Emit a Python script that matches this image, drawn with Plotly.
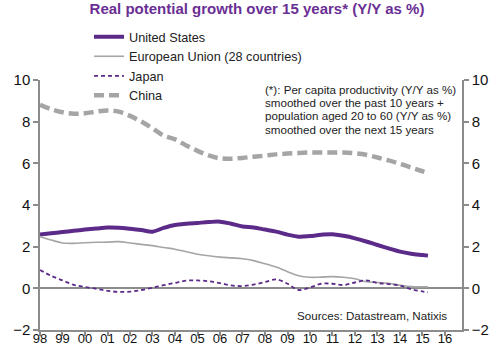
import plotly.graph_objects as go

dates = ["1998-01-01", "1998-07-01", "1999-01-01", "1999-07-01", "2000-01-01", "2000-07-01",
         "2001-01-01", "2001-07-01", "2002-01-01", "2002-07-01", "2003-01-01", "2003-07-01",
         "2004-01-01", "2004-07-01", "2005-01-01", "2005-07-01", "2006-01-01", "2006-07-01",
         "2007-01-01", "2007-07-01", "2008-01-01", "2008-07-01", "2009-01-01", "2009-07-01",
         "2010-01-01", "2010-07-01", "2011-01-01", "2011-07-01", "2012-01-01", "2012-07-01",
         "2013-01-01", "2013-07-01", "2014-01-01", "2014-07-01", "2015-01-01", "2015-04-01"]

us = [2.58, 2.64, 2.70, 2.76, 2.82, 2.87, 2.92, 2.91, 2.86, 2.80, 2.72, 2.90,
      3.04, 3.10, 3.14, 3.18, 3.20, 3.10, 2.97, 2.92, 2.82, 2.72, 2.58, 2.48,
      2.51, 2.57, 2.60, 2.52, 2.40, 2.25, 2.08, 1.92, 1.76, 1.66, 1.60, 1.57]

eu = [2.48, 2.32, 2.18, 2.16, 2.19, 2.21, 2.22, 2.24, 2.18, 2.11, 2.05, 1.96,
      1.88, 1.76, 1.64, 1.56, 1.50, 1.46, 1.42, 1.33, 1.18, 1.02, 0.80, 0.60,
      0.53, 0.54, 0.56, 0.53, 0.46, 0.32, 0.28, 0.24, 0.15, 0.08, 0.07, 0.07]

japan = [0.88, 0.60, 0.38, 0.17, 0.06, -0.02, -0.12, -0.17, -0.16, -0.08, 0.03, 0.15,
         0.26, 0.37, 0.38, 0.34, 0.25, 0.14, 0.11, 0.18, 0.30, 0.43, 0.22, -0.08,
         0.04, 0.22, 0.22, 0.16, 0.28, 0.38, 0.26, 0.20, 0.14, -0.04, -0.15, -0.19]

china = [8.81, 8.60, 8.45, 8.38, 8.40, 8.48, 8.54, 8.48, 8.28, 8.01, 7.68, 7.33,
         7.15, 6.86, 6.60, 6.38, 6.24, 6.22, 6.26, 6.32, 6.37, 6.43, 6.47, 6.50,
         6.52, 6.52, 6.52, 6.52, 6.48, 6.41, 6.28, 6.14, 5.98, 5.80, 5.62, 5.53]

y_ticks = [-2, 0, 2, 4, 6, 8, 10]

note_lines = ["(*): Per capita productivity (Y/Y as %)",
              "smoothed over the past 10 years +",
              "population aged 20 to 60 (Y/Y as %)",
              "smoothed over the next 15 years"]
source_text = "Sources: Datastream, Natixis"

PURPLE = "#5c2a88"
GREY = "#a5a5a5"
AXIS = "#8c8c8c"
FONT = "Arial, Liberation Sans, sans-serif"

W, H = 500, 362
L, R, T, B = 40, 38, 80, 32
PW, PH = W - L - R, H - T - B

fig = go.Figure()
fig.add_trace(go.Scatter(x=dates, y=us, name="United States", mode="lines",
                         line=dict(color=PURPLE, width=4, shape="spline")))
fig.add_trace(go.Scatter(x=dates, y=eu, name="European Union (28 countries)", mode="lines",
                         line=dict(color=GREY, width=1.6, shape="spline")))
fig.add_trace(go.Scatter(x=dates, y=japan, name="Japan", mode="lines",
                         line=dict(color=PURPLE, width=1.8, dash="4px,3px", shape="spline")))
fig.add_trace(go.Scatter(x=dates, y=china, name="China", mode="lines",
                         line=dict(color=GREY, width=4.5, dash="10px,5px", shape="spline")))
# invisible trace to carry right axis
fig.add_trace(go.Scatter(x=[dates[0]], y=[y_ticks[0]], yaxis="y2", mode="lines",
                         showlegend=False, hoverinfo="skip", line=dict(width=0)))

fig.update_layout(
    width=W, height=H,
    margin=dict(l=L, r=R, t=T, b=B, autoexpand=False),
    paper_bgcolor="white", plot_bgcolor="white",
    font=dict(family=FONT, color="#222222", size=12),
    title=dict(text="<b>Real potential growth over 15 years* (Y/Y as %)</b>",
               x=257 / W, xanchor="center", y=1 - 9 / H, yanchor="middle",
               font=dict(size=15, color="#6a2f94", family=FONT)),
    showlegend=True,
    legend=dict(x=89 / W, xanchor="left", y=1 - 22 / H, yanchor="top",
                xref="container", yref="container",
                bgcolor="rgba(0,0,0,0)", font=dict(size=12.7, color="#222222"),
                tracegroupgap=0, itemwidth=30),
    xaxis=dict(type="date", range=["1998-01-01", "2016-10-04"],
               tick0="1998-01-01", dtick="M12", tickformat="%y", tickangle=0,
               showgrid=False, zeroline=False, showline=True, linecolor=AXIS, linewidth=1.5,
               ticks="outside", ticklen=4, tickcolor=AXIS, tickwidth=1.5,
               ticklabelstandoff=-8,
               tickfont=dict(size=13, color="#111111")),
    yaxis=dict(range=[-2, 10], tickvals=y_ticks, showgrid=False,
               zeroline=True, zerolinecolor=AXIS, zerolinewidth=1.5,
               showline=True, linecolor=AXIS, linewidth=1.5,
               ticks="outside", ticklen=5, tickcolor=AXIS, tickwidth=1.5,
               tickfont=dict(size=15, color="#111111")),
    yaxis2=dict(range=[-2, 10], tickvals=y_ticks, overlaying="y", side="right",
                showgrid=False, zeroline=False, showline=True, linecolor=AXIS, linewidth=1.5,
                ticks="outside", ticklen=5, tickcolor=AXIS, tickwidth=1.5,
                tickfont=dict(size=15, color="#111111")),
)

for i, line in enumerate(note_lines):
    fig.add_annotation(
        text=line, xref="paper", yref="paper",
        x=(263 - L) / PW, y=1 - (89 + 13.4 * i - T) / PH,
        xanchor="left", yanchor="middle", align="left", showarrow=False,
        font=dict(size=11.6, color="#222222", family=FONT))

fig.add_annotation(
    text=source_text,
    xref="paper", yref="paper", x=(449 - L) / PW, y=(T + PH - 315) / PH,
    xanchor="right", yanchor="middle", align="right", showarrow=False,
    font=dict(size=11.6, color="#222222", family=FONT))

# remove the default 8px page margin so the figure fills the window exactly
fig.write_html("out.html", config={"displayModeBar": False},
               post_script="document.body.style.margin='0';")
